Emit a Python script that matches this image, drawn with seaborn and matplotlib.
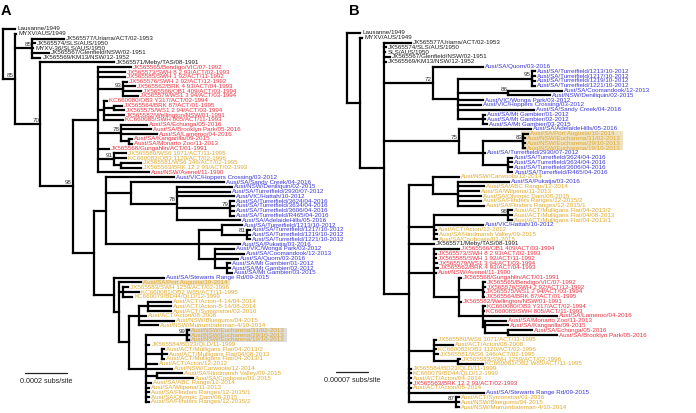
import re
import matplotlib
matplotlib.use("Agg")
import matplotlib.pyplot as plt
from matplotlib.patches import Rectangle
import pandas as pd
import seaborn as sns

sns.set_theme(style="white")
plt.rcParams["font.family"] = ["Liberation Sans", "DejaVu Sans"]

# -----------------------------
# DATA
# -----------------------------
# Newick pieces, branch lengths in units of 1e-6 subs/site.
# Tip names carry a colour key after "|": k=old strains, r=red, b=blue, y=yellow lineage.
UNIT = 1e-6

# ---------- panel A ----------
a_outgroup = "Lausanne/1949|k:58"
a_early = ("(JX565577/Uriarra/ACT/02-1953|k:149,JX565574/SLS/AUS/1950|k:10,MYXV-36/SLS/AUS/1950|k:5,"
           "JX565567/Glenfield/NSW/02-1951|k:77,JX565569/KM13/NSW/12-1952|k:38)85:82")
a_red = """(JX565565/Bendigo/VIC/07-1992|r:158,
JX565573/SWH 8 2 93/ACT/02-1993|r:130,
JX565585/SWH 1 92/ACT/11-1992|r:130,
(JX565576/SWH 2 92/ACT/12-1992|r:19,JX565562/BRK 4 93/ACT/04-1993|r:58,JX565566/OB1 409/ACT/03-1994|r:86,JX565579/WS1 3 94/ACT/03-1994|r:72)93:120,
(KC660080/OB3 Y317/ACT/02-1994|r:14,(JX565564/BRK 87/ACT/01-1995|r:38,JX565575/WS1 2 94/ACT/03-1994|r:48):48,JX565582/Wellington/NSW/01-1991|r:96,KC660085/SWH 805/ACT/11-1993|r:91):29,
(Aust/SA/Echunga/05-2016|r:125,Aust/SA/Brooklyn Park/05-2016|r:144,Aust/SA/Lameroo/04-2016|r:173,(Aust/SA/Kangarilla/09-2015|r:14,Aust/SA/Monarto Zoo/11-2013|r:14):38)78:110,
JX565568/Gungahlin/ACT/01-1991|r:53,
(JX565580/WS6 1071/ACT/11-1995|y:58,KC660082/OB3 1120/ACT/02-1996|y:58,(JX565581/WS6 346/ACT/02-1995|y:96,JX565563/BRK 12 2 93/ACT/02-1993|y:96):34)91:77,
Aust/NSW/Avenel/11-1990|r:245):120"""
a_blue = """(Aust/VIC/Hoppers Crossing/03-2012|b:322,
(Aust/SA/Sandy Creek/04-2016|b:442,
 (Aust/NSW/Deniliquin/02-2015|b:264,Aust/SA/Turretfield/2930/07-2012|b:254,Aust/VIC/Hattah/10-2012|b:274,
  (Aust/SA/Turretfield/3624/04-2016|b:19,Aust/SA/Turretfield/3634/04-2016|b:19,Aust/SA/Turretfield/3606/04-2016|b:19,Aust/SA/Turretfield/R465/04-2016|b:19)79:254,
  Aust/SA/AdelaideHills/05-2016|b:302)78:216):120,
((Aust/SA/Turretfield/1213/10-2012|b:96,(Aust/SA/Turretfield/1217/10-2012|b:14,Aust/SA/Turretfield/1219/10-2012|b:14,Aust/SA/Turretfield/1221/10-2012|b:14)81:120):110,
 Aust/SA/Pukatja/03-2016|b:197,
 (Aust/VIC/Wonga Park/03-2012|b:91,Aust/SA/Coomandook/12-2013|b:139,Aust/SA/Quorn/03-2016|b:110,(Aust/SA/Mt Gambier/01-2012|b:14,Aust/SA/Mt Gambier/02-2012|b:14,Aust/SA/Mt Gambier/03-2015|b:24):58):77):442):58"""
a_yellow = """(Aust/SA/Stewarts Range Rd/09-2015|b:240,
(Aust/SA/Port Augusta/10-2014|y:106,
 (JX565583/SWH 1259/ACT/02-1996|y:24,KC660081/OB2 W85/ACT/11-1995|y:77,KC660079/BD44/QLD/12-1999|y:43):19,
 (((Aust/ACT/Acton-4-14/04-2014|y:110,Aust/ACT/Acton-8-14/08-2014|y:110,Aust/ACT/Symonston/02-2016|y:110):43,Aust/ACT/Acton/08-2008|y:34,Aust/NSW/Bluegums/04-2015|y:163,Aust/NSW/Murrumbateman-4/10-2014|y:91):48,
  ((Aust/NSW/Eucharena/31/02-2013|y:10,Aust/NSW/Eucharena/29/10-2013|y:10,Aust/NSW/Eucharena/19/10-2013|y:10)99:192,
   JX565584/BD23/QLD/11-1999|y:14,
   (Aust/ACT/Mulligans Flat/04-2013/2|y:14,Aust/ACT/Mulligans Flat/04/08-2013|y:24,Aust/ACT/Mulligans Flat/04-2013/1|y:14):72,
   Aust/ACT/Acton/12-2012|y:48,Aust/NSW/Carwoola/12-2014|y:120,
   (Aust/SA/Hindmarsh Valley/09-2015|y:120,Aust/SA/Coobowie/01-2015|y:173):48,
   Aust/SA/ABC Range/12-2014|y:24,Aust/SA/Wilpena/11-2013|y:14,Aust/SA/Flinders Ranges/12-2015/1|y:14,Aust/SA/Olympic Dam/08-2015|y:14,Aust/SA/Flinders Ranges/12-2015/2|y:14):82):48):24):96"""
tree_a = ("(" + a_outgroup + ",(MYXV/AUS/1949|k:5," + a_early + ",(JX565571/Meby/TAS/08-1991|k:350,("
          + a_red + ",(" + a_blue + "," + a_yellow + "):101)98:154)70:120)85:58);")
highlight_a = [(["Aust/NSW/Eucharena/31/02-2013", "Aust/NSW/Eucharena/29/10-2013", "Aust/NSW/Eucharena/19/10-2013"], "#dcdcdc"),
               (["Aust/SA/Port Augusta/10-2014"], "#efe2c2")]

# ---------- panel B ----------
b_outgroup = "Lausanne/1949|k:29"
b_early = ("JX565577/Uriarra/ACT/02-1953|k:57,JX565574/SLS/AUS/1950|k:4,SLS/AUS/1950|k:2,"
           "JX565567/Glenfield/NSW/02-1951|k:11,JX565569/KM13/NSW/12-1952|k:4")
b_blue1 = """(Aust/SA/Quorn/03-2016|b:110,
((Aust/SA/Turretfield/1213/10-2012|b:7,Aust/SA/Turretfield/1217/10-2012|b:7,Aust/SA/Turretfield/1219/10-2012|b:7,Aust/SA/Turretfield/1221/10-2012|b:7)95:161,
 (Aust/SA/Coomandook/12-2013|b:117,Aust/NSW/Deniliquin/02-2015|b:90)86:110,
 Aust/VIC/Wonga Park/03-2012|b:55,Aust/VIC/Hoppers Crossing/03-2012|b:51,Aust/SA/Sandy Creek/04-2016|b:165,
 (Aust/SA/Mt Gambier/01-2012|b:4,Aust/SA/Mt Gambier/02-2012|b:4,Aust/SA/Mt Gambier/03-2015|b:9):55):55)72:106"""
b_blue2 = """(Aust/SA/AdelaideHills/05-2016|b:158,
((Aust/SA/Port Augusta/10-2014|y:11,Aust/NSW/Eucharena/31/02-2013|y:4,Aust/NSW/Eucharena/29/10-2013|y:4,Aust/NSW/Eucharena/19/10-2013|y:4)83:88,
 Aust/SA/Turretfield/2930/07-2012|b:4,
 (Aust/SA/Turretfield/3624/04-2016|b:7,Aust/SA/Turretfield/3634/04-2016|b:7,Aust/SA/Turretfield/3606/04-2016|b:7,Aust/SA/Turretfield/R465/04-2016|b:9):55):53)75:163"""
b_lower = """((Aust/NSW/Carwoola/12-2014|y:57,(Aust/SA/Pukatja/03-2016|b:112,Aust/SA/ABC Range/12-2014|y:57,Aust/SA/Wilpena/11-2013|y:46,Aust/SA/Olympic Dam/08-2015|y:51,Aust/SA/Flinders Ranges/12-2015/2|y:51,Aust/SA/Flinders Ranges/12-2015/1|y:57):55):53,
((Aust/ACT/Mulligans Flat/04-2013/2|y:7,Aust/ACT/Mulligans Flat/04/08-2013|y:7,Aust/ACT/Mulligans Flat/04-2013/1|y:7)96:163,Aust/VIC/Hattah/10-2012|b:108,Aust/ACT/Acton/12-2012|y:4,Aust/SA/Hindmarsh Valley/09-2015|y:7,Aust/SA/Coobowie/01-2015|y:7):55,
JX565571/Meby/TAS/08-1991|k:55,
(JX565566/OB1 409/ACT/03-1994|r:55,JX565573/SWH 8 2 93/ACT/02-1993|r:4,JX565585/SWH 1 92/ACT/11-1992|r:4,JX565579/WS1 3 94/ACT/03-1994|r:7,JX565562/BRK 4 93/ACT/04-1993|r:9,Aust/NSW/Avenel/11-1990|r:4,
 (JX565568/Gungahlin/ACT/01-1991|r:4,(JX565565/Bendigo/VIC/07-1992|r:4,JX565576/SWH 2 92/ACT/12-1992|r:4,JX565575/WS1 2 94/ACT/03-1994|r:2,JX565564/BRK 87/ACT/01-1995|r:2):53,JX565582/Wellington/NSW/01-1991|r:4,
  (KC660080/OB3 Y317/ACT/02-1994|r:4,KC660085/SWH 805/ACT/11-1993|r:2,Aust/SA/Lameroo/04-2016|r:161,(Aust/SA/Monarto Zoo/11-2013|r:46,Aust/SA/Kangarilla/09-2015|r:51,(Aust/SA/Echunga/05-2016|r:51,Aust/SA/Brooklyn Park/05-2016|r:106):51):4):53):55):55,
(JX565580/WS6 1071/ACT/11-1995|y:4,Aust/ACT/Acton/08-2008|y:42,KC660082/OB3 1120/ACT/02-1996|y:4,JX565581/WS6 346/ACT/02-1995|y:9,(JX565583/SWH 1259/ACT/02-1996|y:4,KC660081/OB2 W85/ACT/11-1995|y:55):53):55,
JX565584/BD23/QLD/11-1999|y:4,KC660079/BD44/QLD/12-1999|y:4,Aust/ACT/Acton/04-2014|y:4,JX565563/BRK 12 2 93/ACT/02-1993|r:4,Aust/ACT/Acton/08-2014|y:4,
Aust/SA/Stewarts Range Rd/09-2015|b:165,
(Aust/ACT/Symonston/01-2016|y:7,Aust/NSW/Bluegums/04-2015|y:7,Aust/NSW/Murrumbateman-4/10-2014|y:7)87:103):53"""
tree_b = ("(" + b_outgroup + ",(MYXV/AUS/1949|k:4,(" + b_early + "," + b_blue1 + "," + b_blue2 + ","
          + b_lower + "):53):29);")
highlight_b = [(["Aust/SA/Port Augusta/10-2014", "Aust/NSW/Eucharena/31/02-2013",
                 "Aust/NSW/Eucharena/29/10-2013", "Aust/NSW/Eucharena/19/10-2013"], "#efe2c2")]

colours = {"k": "#1e1e1e", "r": "#ec3140", "b": "#3a36d4", "y": "#e2a92c"}


# -----------------------------
# TREE HELPERS
# -----------------------------
def parse_newick(text):
    holder = {"children": []}
    stack = [holder]
    last = None
    for tok in re.findall(r"[(),;]|[^(),;]+", text):
        if tok == "(":
            node = {"children": [], "name": "", "len": 0.0}
            stack[-1]["children"].append(node)
            stack.append(node)
            last = None
        elif tok == ")":
            last = stack.pop()
        elif tok in ",;":
            last = None
        elif tok.strip():
            label, length = tok.strip().rsplit(":", 1)
            if last is None:
                name, col = label.split("|")
                stack[-1]["children"].append({"children": [], "name": name, "col": col,
                                              "len": float(length)})
            else:
                last["name"] = label
                last["len"] = float(length)
    return holder["children"][0]


def layout(root):
    tips = []

    def walk(node, x, parent):
        node["x"] = x + node["len"] * UNIT
        node["parent"] = parent
        if node["children"]:
            for c in node["children"]:
                walk(c, node["x"], node)
            node["y"] = (node["children"][0]["y"] + node["children"][-1]["y"]) / 2
        else:
            node["y"] = len(tips)
            tips.append(node)

    walk(root, 0.0, None)
    return tips


def branch_frame(root):
    rows = []

    def walk(node):
        if node["parent"] is not None:
            seg = len(rows)
            rows.append({"seg": seg, "x": node["parent"]["x"], "y": node["y"]})
            rows.append({"seg": seg, "x": node["x"], "y": node["y"]})
        if node["children"]:
            seg = len(rows)
            rows.append({"seg": seg, "x": node["x"], "y": node["children"][0]["y"]})
            rows.append({"seg": seg, "x": node["x"], "y": node["children"][-1]["y"]})
            for c in node["children"]:
                walk(c)

    walk(root)
    df = pd.DataFrame(rows)
    df["seg"] = df["seg"].astype(str)
    return df


def internal_nodes(node):
    out = []
    if node["children"]:
        out.append(node)
        for c in node["children"]:
            out += internal_nodes(c)
    return out


# -----------------------------
# FIGURE
# -----------------------------
W, H = 696, 413
fig = plt.figure(figsize=(W / 100, H / 100), dpi=100)
FS = 4.5


def draw_panel(newick, left_px, right_px, root_px, top_px, bottom_px, x_per_px,
               highlights, letter, letter_px, bar_len, bar_px, bar_label):
    root = parse_newick(newick)
    tips = layout(root)
    step = (bottom_px - top_px) / (len(tips) - 1)

    ax = fig.add_axes([left_px / W, 0, (right_px - left_px) / W, 1])

    seg_df = branch_frame(root)
    sns.lineplot(data=seg_df, x="x", y="y", units="seg", estimator=None, sort=False,
                 color="black", linewidth=1.6, solid_capstyle="projecting",
                 legend=False, ax=ax)

    ax.set_xlim((left_px - root_px) * x_per_px, (right_px - root_px) * x_per_px)
    ax.set_ylim((H - top_px) / step, -top_px / step)
    ax.axis("off")

    artists = {}
    for t in tips:
        artists[t["name"]] = ax.text(t["x"] + 2 * x_per_px, t["y"], t["name"],
                                     color=colours[t["col"]], fontsize=FS,
                                     va="center", ha="left")

    # bootstrap support, just above the branch on the left of its node
    for n in internal_nodes(root):
        if n["name"]:
            ax.text(n["x"] - 1 * x_per_px, n["y"] - 0.25, n["name"], fontsize=FS,
                    color="#333333", ha="right", va="bottom")

    # highlighted clades behind labels
    fig.canvas.draw()
    renderer = fig.canvas.get_renderer()
    inv = ax.transData.inverted()
    for names, fc in highlights:
        sel = [t for t in tips if t["name"] in names]
        if len(sel) > 1:
            x0 = sel[0]["parent"]["x"] - 2 * x_per_px
        else:
            x0 = sel[0]["x"] + 1 * x_per_px
        x1 = max(inv.transform((artists[t["name"]].get_window_extent(renderer).x1, 0))[0] for t in sel)
        y0 = min(t["y"] for t in sel) - 0.5
        y1 = max(t["y"] for t in sel) + 0.5
        ax.add_patch(Rectangle((x0, y0), x1 - x0 + 2 * x_per_px, y1 - y0,
                               facecolor=fc, edgecolor="none", zorder=0))

    # scale bar
    bx0 = (bar_px[0] - root_px) * x_per_px
    by = (bar_px[1] - top_px) / step
    ax.plot([bx0, bx0 + bar_len], [by, by], color="#222222", lw=0.9)
    ax.text(bx0 + bar_len / 2, by + 1.0, bar_label, fontsize=5.2, color="#222222",
            ha="center", va="top")

    fig.text(letter_px / W, 1 - 4 / H, letter, fontsize=10.5, fontweight="bold",
             ha="left", va="top", color="black")


draw_panel(tree_a, 0, 345, 3, 29, 402, 0.0002 / 42, highlight_a, "A", 1,
           0.0002, (25, 373), "0.0002 subs/site")
draw_panel(tree_b, 300, 696, 347, 33, 407, 0.00007 / 32, highlight_b, "B", 349,
           0.00007, (336, 372), "0.00007 subs/site")

fig.savefig("out.png", dpi=100)
